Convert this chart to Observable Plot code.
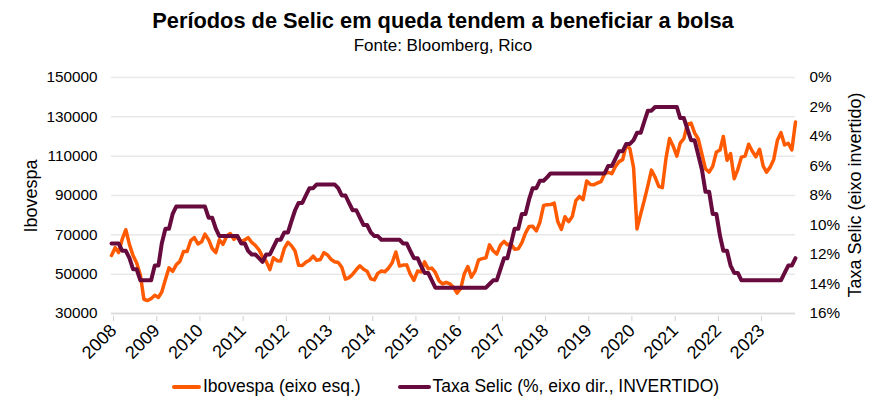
<!DOCTYPE html>
<html><head><meta charset="utf-8">
<script src="https://cdn.jsdelivr.net/npm/d3@7"></script>
<script src="https://cdn.jsdelivr.net/npm/@observablehq/plot@0.6"></script>
<style>
body{margin:0;background:#fff;font-family:"Liberation Sans",Arial,sans-serif;color:#000;}
#wrap{position:relative;width:886px;height:412px;overflow:hidden;}
#title{position:absolute;left:0;width:886px;top:10px;text-align:center;font-weight:bold;font-size:21.8px;line-height:1;}
#sub{position:absolute;left:0;width:886px;top:37px;text-align:center;font-size:17px;line-height:1;}
#chart{position:absolute;left:0;top:58px;}
.rot{position:absolute;white-space:nowrap;font-size:18px;line-height:1;transform:translate(-50%,-50%) rotate(-90deg);}
#legend{position:absolute;top:378px;left:172px;display:flex;align-items:center;font-size:17.5px;line-height:1;white-space:nowrap;}
.sw{display:inline-block;height:4px;border-radius:2px;}
</style></head><body>
<div id="wrap">
<div id="title">Períodos de Selic em queda tendem a beneficiar a bolsa</div>
<div id="sub">Fonte: Bloomberg, Rico</div>
<div id="chart"></div>
<div class="rot" style="left:31px;top:196px;">Ibovespa</div>
<div class="rot" style="left:855px;top:195px;">Taxa Selic (eixo invertido)</div>
<div id="legend">
  <span class="sw" style="width:29px;background:#FF5A00;margin-right:2px;"></span><span>Ibovespa (eixo esq.)</span>
  <span class="sw" style="width:33px;background:#670A3D;margin-left:37px;margin-right:2px;"></span><span>Taxa Selic (%, eixo dir., INVERTIDO)</span>
</div>
</div>
<script>
// Monthly data, Jan 2008 – Nov 2023
const ibovespa = [
59490,63489,60968,67868,72593,65017,59505,55680,49541,37257,36596,37550,
39301,38183,40926,47289,53198,51465,54766,56489,61518,61546,67044,68588,
65402,66503,70372,67529,63047,60936,67515,65145,69430,70673,67705,69305,
66575,67383,68587,66133,64620,62404,58823,56495,52324,58338,56875,56754,
63072,66231,64511,61821,54490,54355,56097,57061,59176,57068,57475,60952,
59761,57424,56352,55910,53506,47457,48234,50008,52338,54256,52482,51507,
47639,47094,50415,51627,51239,53168,55829,61288,54116,54629,54724,50007,
46908,51583,51150,56229,52760,53081,50865,46626,45059,45869,45120,43350,
40406,42793,50055,53911,48471,51527,57308,57901,58367,64925,61906,60227,
64671,66662,64984,65403,62711,62900,65920,70835,74294,74308,71971,76402,
84913,85354,85365,86115,76753,72762,79220,76677,79342,87424,89504,87887,
97394,95584,95415,96353,97030,100967,101812,101135,104745,107220,108233,115645,
113761,104172,73020,80506,87403,95056,102912,99369,94603,93952,108893,119017,
115068,110035,116634,118894,126216,126802,121801,118781,110979,103501,101915,104822,
112144,113142,119999,107876,111351,98542,103165,109523,110037,116037,112486,109735,
113532,104932,101882,104432,108335,118087,121943,115742,116565,113144,127331];
const selic = [
11.25,11.25,11.25,11.75,11.75,12.25,13.00,13.00,13.75,13.75,13.75,13.75,
12.75,12.75,11.25,10.25,10.25,9.25,8.75,8.75,8.75,8.75,8.75,8.75,
8.75,8.75,8.75,9.50,9.50,10.25,10.75,10.75,10.75,10.75,10.75,10.75,
11.25,11.25,11.75,12.00,12.00,12.25,12.50,12.00,12.00,11.50,11.00,11.00,
10.50,10.50,9.75,9.00,8.50,8.50,8.00,7.50,7.50,7.25,7.25,7.25,
7.25,7.25,7.25,7.50,8.00,8.00,8.50,9.00,9.00,9.50,10.00,10.00,
10.50,10.75,10.75,11.00,11.00,11.00,11.00,11.00,11.00,11.25,11.25,11.75,
12.25,12.25,12.75,13.25,13.25,13.75,14.25,14.25,14.25,14.25,14.25,14.25,
14.25,14.25,14.25,14.25,14.25,14.25,14.25,14.25,14.25,14.00,13.75,13.75,
13.00,12.25,12.25,11.25,10.25,10.25,9.25,9.25,8.25,7.50,7.50,7.00,
7.00,6.75,6.50,6.50,6.50,6.50,6.50,6.50,6.50,6.50,6.50,6.50,
6.50,6.50,6.50,6.50,6.50,6.50,6.00,6.00,5.50,5.00,5.00,4.50,
4.50,4.25,3.75,3.75,3.00,2.25,2.25,2.00,2.00,2.00,2.00,2.00,
2.00,2.00,2.75,2.75,3.50,4.25,4.25,5.25,6.25,7.75,7.75,9.25,
9.25,10.75,11.75,11.75,12.75,13.25,13.25,13.75,13.75,13.75,13.75,13.75,
13.75,13.75,13.75,13.75,13.75,13.75,13.75,13.25,12.75,12.75,12.25];
const years = [2008,2009,2010,2011,2012,2013,2014,2015,2016,2017,2018,2019,2020,2021,2022,2023];
const ibovTicks = [30000,50000,70000,90000,110000,130000,150000];
const selicTicks = [0,2,4,6,8,10,12,14,16];

// Selic is drawn on the left scale, inverted: 0% -> 150000, 16% -> 30000
const toLeft = s => 150000 - s * 7500;
const fromLeft = v => (150000 - v) / 7500;
const month = i => new Date(Date.UTC(2008, i, 1));
const ibovData = ibovespa.map((v, i) => ({date: month(i), v}));
const selicData = selic.map((s, i) => ({date: month(i), v: toLeft(s)}));
const yearDates = years.map(y => new Date(Date.UTC(y, 0, 1)));

const chart = Plot.plot({
  width: 886, height: 310,
  marginLeft: 111, marginRight: 91, marginTop: 19, marginBottom: 55,
  style: {fontFamily: "'Liberation Sans', Arial, sans-serif", fontSize: "15px", color: "#000", background: "transparent", overflow: "visible"},
  x: {type: "utc", domain: [month(0), month(ibovespa.length - 1)]},
  y: {domain: [30000, 150000]},
  marks: [
    Plot.gridY(ibovTicks, {stroke: "#e8e8e8", strokeOpacity: 1, strokeWidth: 1.5}),
    Plot.ruleY([30000], {stroke: "#d9d9d9", strokeWidth: 1.5}),
    Plot.axisY(ibovTicks, {anchor: "left", tickSize: 0, tickPadding: 14, label: null, tickFormat: d => String(d), fontSize: 15.3}),
    Plot.axisY(selicTicks.map(toLeft), {anchor: "right", tickSize: 0, tickPadding: 14, label: null, tickFormat: v => Math.round(fromLeft(v)) + "%", fontSize: 15.3}),
    Plot.axisX(yearDates, {tickSize: 5, stroke: "#d0d0d0", tickRotate: -45, tickPadding: 6, label: null, tickFormat: d => String(d.getUTCFullYear()), fontSize: 18, fill: "#000", dx: 2, dy: 3}),
    Plot.line(ibovData, {x: "date", y: "v", stroke: "#FF5A00", strokeWidth: 3.5}),
    Plot.line(selicData, {x: "date", y: "v", stroke: "#670A3D", strokeWidth: 4})
  ]
});
document.getElementById("chart").appendChild(chart);
</script>
</body></html>
